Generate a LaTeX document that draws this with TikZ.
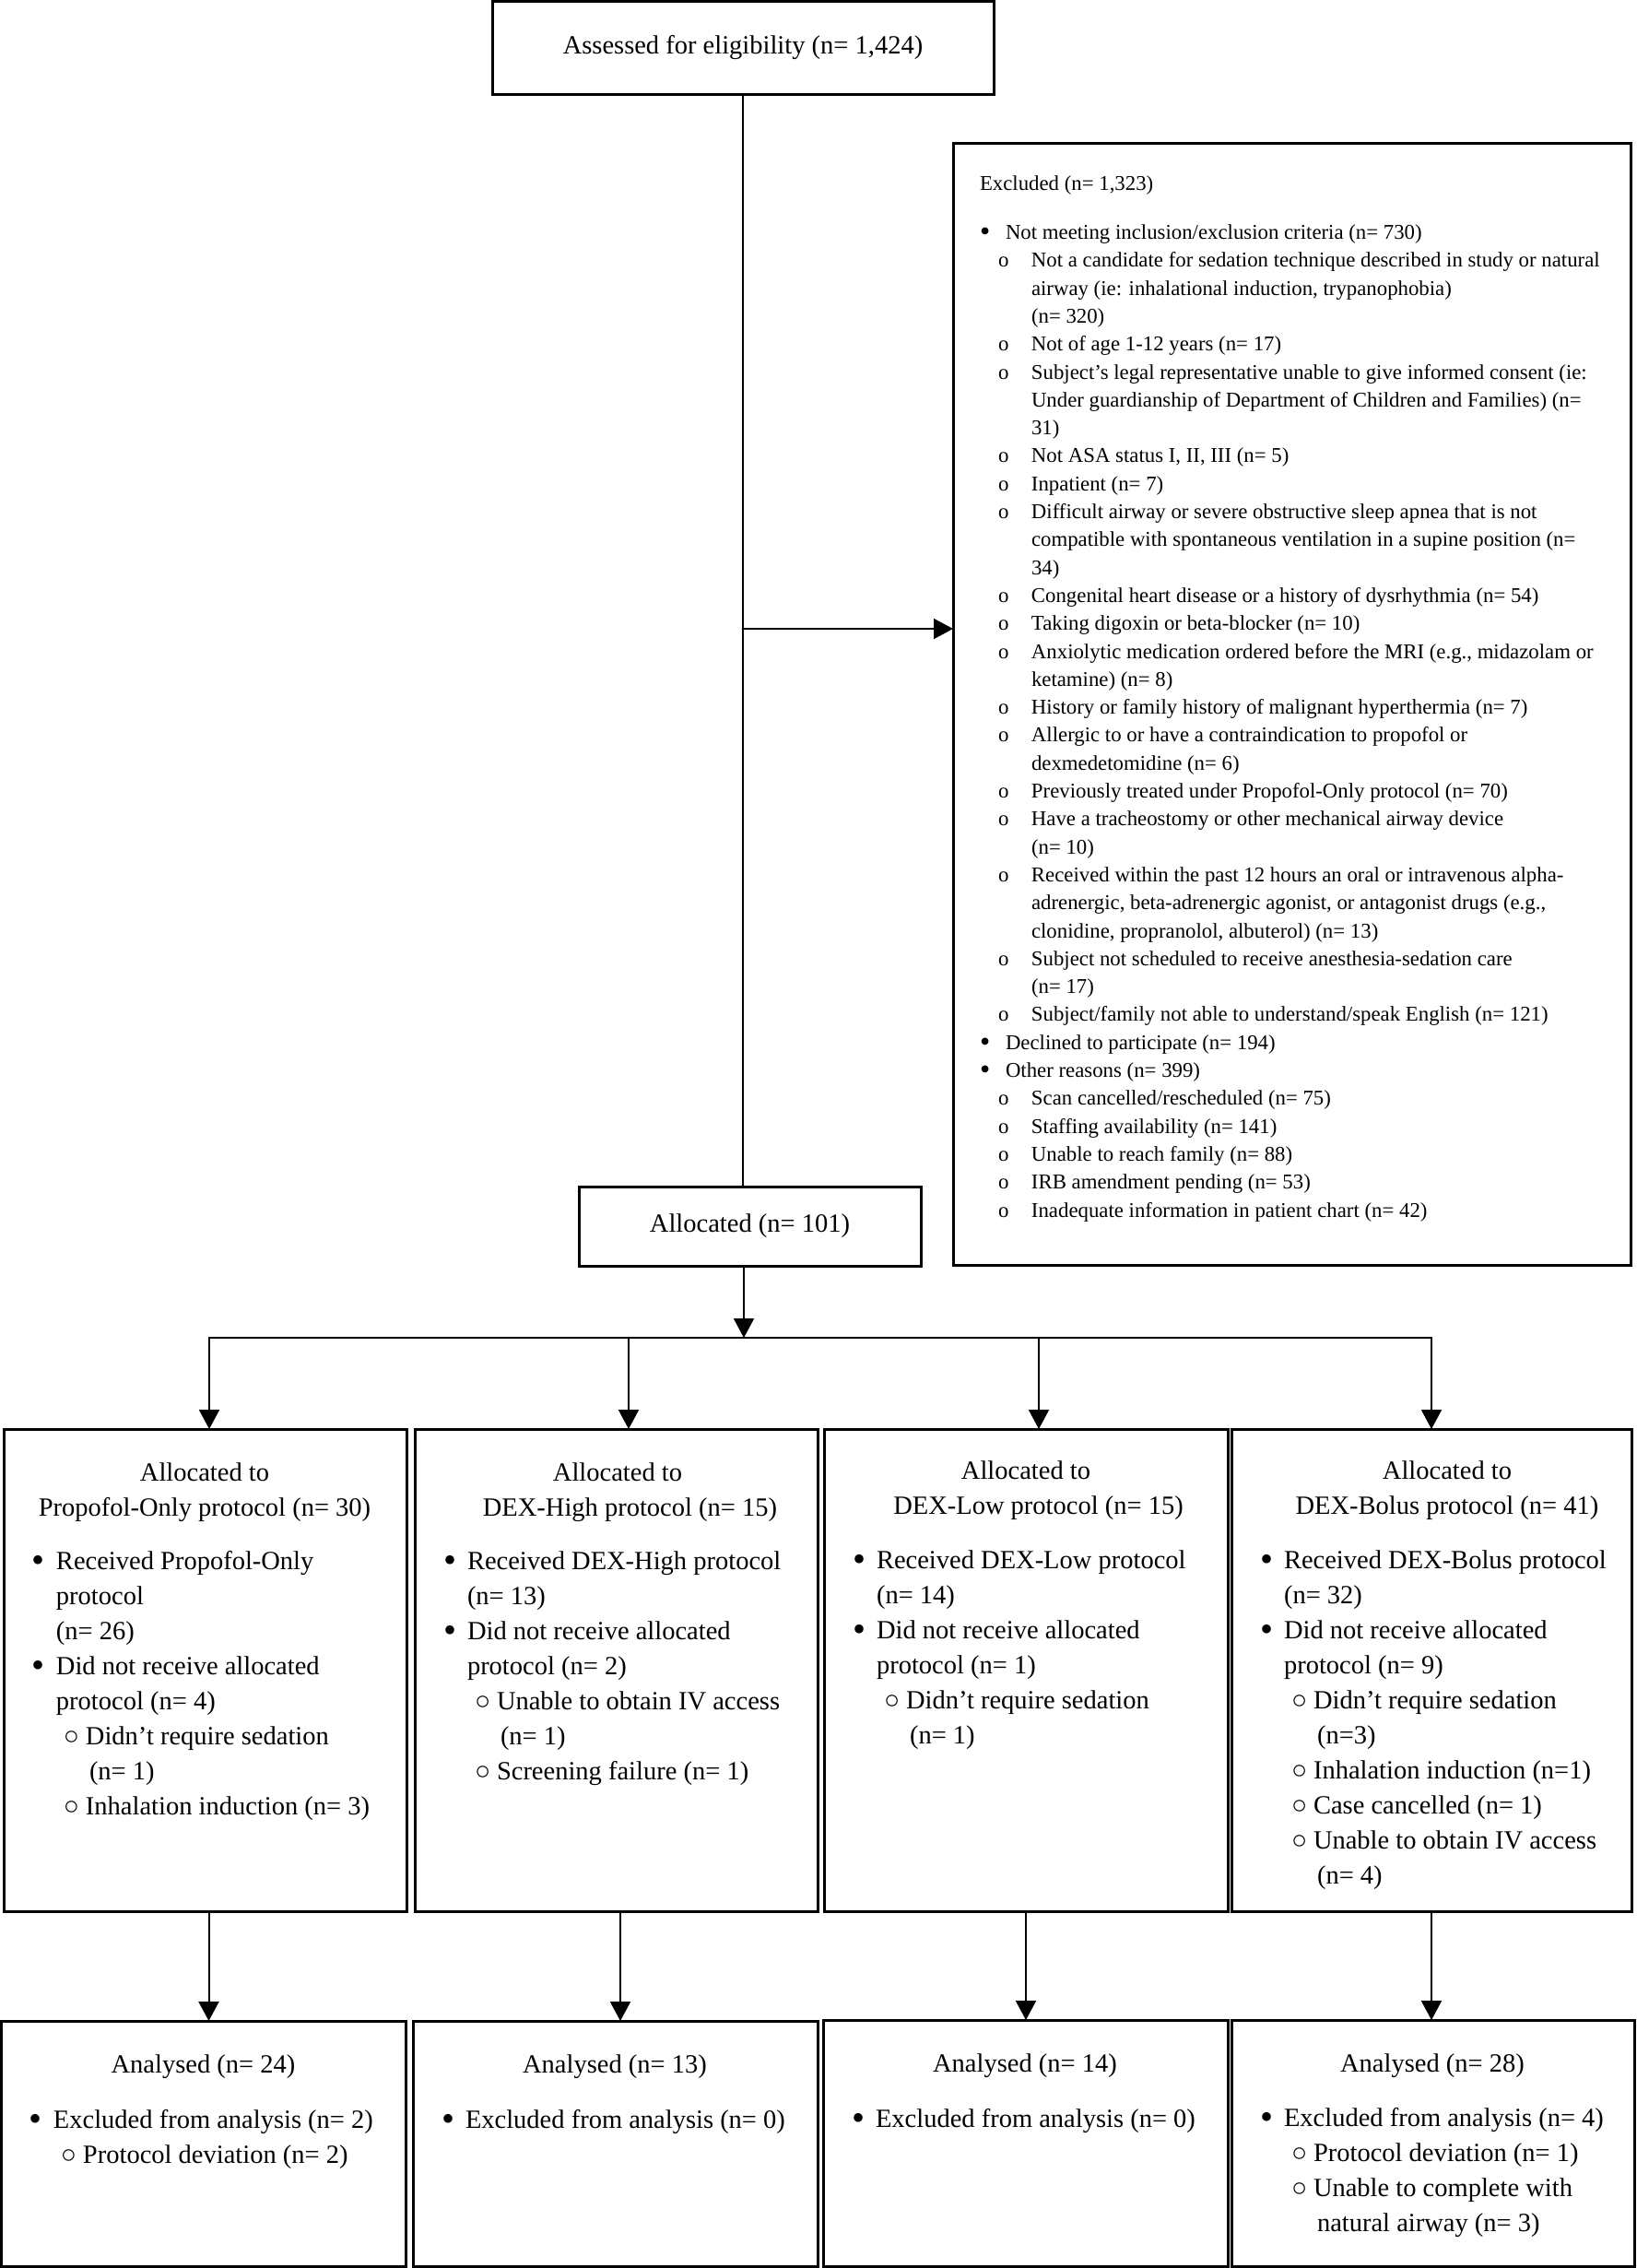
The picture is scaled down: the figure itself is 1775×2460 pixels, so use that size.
\documentclass[tikz,border=0pt]{standalone}
\usepackage{fontspec}
\setmainfont{Liberation Serif}
\usetikzlibrary{arrows.meta}
% bullets for the large (lower) boxes
\newcommand{\bigbul}{\hspace*{-2pt}\raisebox{-3.2pt}{\fontsize{40}{38}\selectfont •}}
\newcommand{\LB}{\strut\makebox[24pt][l]{\bigbul}}
\newcommand{\LC}{\strut\hspace*{24pt}}
\newcommand{\LS}{\strut\hspace*{32pt}\makebox[24pt][l]{○}}
\newcommand{\LSC}{\strut\hspace*{60pt}}
% bullets for the excluded box
\newcommand{\smbul}{\raisebox{-2.4pt}{\fontsize{32}{30}\selectfont •}}
\newcommand{\EB}{\strut\makebox[28pt][l]{\smbul}}
\newcommand{\ES}{\strut\hspace*{20pt}\makebox[36pt][l]{o}}
\newcommand{\ESC}{\strut\hspace*{56pt}}
\tikzset{
  boxnode/.style={draw=black, line width=3pt, outer sep=0pt, inner sep=0pt, anchor=north west,
    font=\fontsize{28.5}{38}\selectfont},
  conn/.style={draw=black, line width=2pt},
  arr/.style={conn, -{Triangle[length=21pt,width=22pt]}},
  arrboth/.style={conn, {Triangle[length=21pt,width=22pt]}-{Triangle[length=21pt,width=22pt]}},
  bigtext/.style={inner sep=0pt, outer sep=0pt, font=\fontsize{28.5}{38}\selectfont},
  hd/.style={bigtext, anchor=north, align=center},
  lst/.style={bigtext, anchor=north west, align=left},
  exctext/.style={inner sep=0pt, outer sep=0pt, anchor=north west, align=left,
    font=\fontsize{22.8}{30.3}\selectfont}
}
\begin{document}
\begin{tikzpicture}[x=1pt,y=-1pt]
\useasboundingbox (0,0) rectangle (1775,2460);
\fill[white] (0,0) rectangle (1775,2460);

% ---------- boxes ----------
\node[boxnode, minimum width=544pt, minimum height=100.5pt] (top) at (534,1.5) {Assessed for eligibility (n= 1,424)};
\node[boxnode, minimum width=735pt, minimum height=1217pt] (exc) at (1034,155) {};
\node[boxnode, minimum width=371pt, minimum height=86pt] (alloc) at (628,1287) {Allocated (n= 101)};

\node[boxnode, minimum width=437pt, minimum height=523pt] (a1) at (4,1550) {};
\node[boxnode, minimum width=437pt, minimum height=523pt] (a2) at (450,1550) {};
\node[boxnode, minimum width=438pt, minimum height=523pt] (a3) at (894,1550) {};
\node[boxnode, minimum width=434pt, minimum height=523pt] (a4) at (1336,1550) {};

\node[boxnode, minimum width=438.5pt, minimum height=266pt] (b1) at (1.5,2192) {};
\node[boxnode, minimum width=439pt, minimum height=266pt] (b2) at (448,2192) {};
\node[boxnode, minimum width=439pt, minimum height=267pt] (b3) at (893,2191) {};
\node[boxnode, minimum width=437pt, minimum height=267pt] (b4) at (1336,2191) {};

% ---------- excluded text ----------
\node[exctext] (exct) at (1063,185.3) {\strut Excluded (n= 1,323)\\[22.7pt]
\EB Not meeting inclusion/exclusion criteria (n= 730)\\
\ES Not a candidate for sedation technique described in study or natural\\
\ESC airway (ie: inhalational induction, trypanophobia)\\
\ESC (n= 320)\\
\ES Not of age 1-12 years (n= 17)\\
\ES Subject’s legal representative unable to give informed consent (ie:\\
\ESC Under guardianship of Department of Children and Families) (n=\\
\ESC 31)\\
\ES Not ASA status I, II, III (n= 5)\\
\ES Inpatient (n= 7)\\
\ES Difficult airway or severe obstructive sleep apnea that is not\\
\ESC compatible with spontaneous ventilation in a supine position (n=\\
\ESC 34)\\
\ES Congenital heart disease or a history of dysrhythmia (n= 54)\\
\ES Taking digoxin or beta-blocker (n= 10)\\
\ES Anxiolytic medication ordered before the MRI (e.g., midazolam or\\
\ESC ketamine) (n= 8)\\
\ES History or family history of malignant hyperthermia (n= 7)\\
\ES Allergic to or have a contraindication to propofol or\\
\ESC dexmedetomidine (n= 6)\\
\ES Previously treated under Propofol-Only protocol (n= 70)\\
\ES Have a tracheostomy or other mechanical airway device\\
\ESC (n= 10)\\
\ES Received within the past 12 hours an oral or intravenous alpha-\\
\ESC adrenergic, beta-adrenergic agonist, or antagonist drugs (e.g.,\\
\ESC clonidine, propranolol, albuterol) (n= 13)\\
\ES Subject not scheduled to receive anesthesia-sedation care\\
\ESC (n= 17)\\
\ES Subject/family not able to understand/speak English (n= 121)\\
\EB Declined to participate (n= 194)\\
\EB Other reasons (n= 399)\\
\ES Scan cancelled/rescheduled (n= 75)\\
\ES Staffing availability (n= 141)\\
\ES Unable to reach family (n= 88)\\
\ES IRB amendment pending (n= 53)\\
\ES Inadequate information in patient chart (n= 42)};

% ---------- allocation box texts ----------
\node[hd] (h1) at (222,1579.4) {\strut Allocated to\\\strut Propofol-Only protocol (n= 30)};
\node[hd] (h2) at (670,1579.4) {\strut Allocated to\\\strut\hspace*{27pt}DEX-High protocol (n= 15)};
\node[hd] (h3) at (1113,1577.4) {\strut Allocated to\\\strut\hspace*{27pt}DEX-Low protocol (n= 15)};
\node[hd] (h4) at (1570,1577.4) {\strut Allocated to\\\strut DEX-Bolus protocol (n= 41)};

\node[lst] (l1) at (37,1676) {\LB Received Propofol-Only\\
\LC protocol\\
\LC (n= 26)\\
\LB Did not receive allocated\\
\LC protocol (n= 4)\\
\LS Didn’t require sedation\\
\LSC (n= 1)\\
\LS Inhalation induction (n= 3)};
\node[lst] (l2) at (483,1676) {\LB Received DEX-High protocol\\
\LC (n= 13)\\
\LB Did not receive allocated\\
\LC protocol (n= 2)\\
\LS Unable to obtain IV access\\
\LSC (n= 1)\\
\LS Screening failure (n= 1)};
\node[lst] (l3) at (927,1675) {\LB Received DEX-Low protocol\\
\LC (n= 14)\\
\LB Did not receive allocated\\
\LC protocol (n= 1)\\
\LS Didn’t require sedation\\
\LSC (n= 1)};
\node[lst] (l4) at (1369,1675) {\LB Received DEX-Bolus protocol\\
\LC (n= 32)\\
\LB Did not receive allocated\\
\LC protocol (n= 9)\\
\LS Didn’t require sedation\\
\LSC (n=3)\\
\LS Inhalation induction (n=1)\\
\LS Case cancelled (n= 1)\\
\LS Unable to obtain IV access\\
\LSC (n= 4)};

% ---------- analysed box texts ----------
\node[hd] (g1) at (220.5,2222) {\strut Analysed (n= 24)};
\node[hd] (g2) at (667,2222) {\strut Analysed (n= 13)};
\node[hd] (g3) at (1112,2221) {\strut Analysed (n= 14)};
\node[hd] (g4) at (1554,2221) {\strut Analysed (n= 28)};

\node[lst] (m1) at (34,2282) {\LB Excluded from analysis (n= 2)\\
\LS Protocol deviation (n= 2)};
\node[lst] (m2) at (481,2282) {\LB Excluded from analysis (n= 0)};
\node[lst] (m3) at (926,2281) {\LB Excluded from analysis (n= 0)};
\node[lst] (m4) at (1369,2280) {\LB Excluded from analysis (n= 4)\\
\LS Protocol deviation (n= 1)\\
\LS Unable to complete with\\
\LSC natural airway (n= 3)};

% ---------- connectors ----------
\coordinate (j1) at (807,682);
\coordinate (hub) at (807,1451);
\coordinate (hL) at (227,1451);
\coordinate (hR) at (1553,1451);
\coordinate (d2) at (682,1451);
\coordinate (d3) at (1127,1451);

\draw[conn] (top.south) -- (top.south |- alloc.north);
\draw[arr] (j1) -- (j1 -| exc.west);
\draw[arr] (alloc.south -| hub) -- (hub);
\draw[arrboth] (hL |- a1.north) -- (hL) -- (hR) -- (hR |- a4.north);
\draw[arr] (d2) -- (d2 |- a2.north);
\draw[arr] (d3) -- (d3 |- a3.north);

\draw[arr] ([xshift=4pt]a1.south) -- ([xshift=4pt]a1.south |- b1.north);
\draw[arr] ([xshift=4.5pt]a2.south) -- ([xshift=4.5pt]a2.south |- b2.north);
\draw[arr] (a3.south) -- (a3.south |- b3.north);
\draw[arr] (a4.south) -- (a4.south |- b4.north);
\end{tikzpicture}
\end{document}
